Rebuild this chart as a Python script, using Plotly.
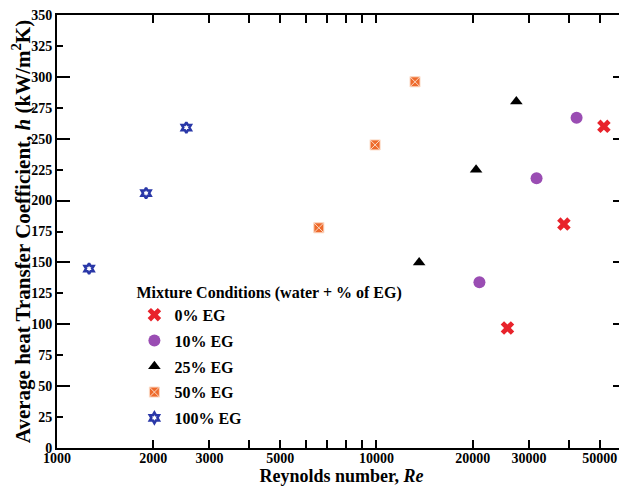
import plotly.graph_objects as go

series_names = ["0% EG", "10% EG", "25% EG", "50% EG", "100% EG"]
re_0 = [25700, 38600, 51500]
h_0 = [97, 181, 260]
re_10 = [21000, 31700, 42300]
h_10 = [134, 218, 267]
re_25 = [13600, 20500, 27400]
h_25 = [150, 225, 280]
re_50 = [6600, 9900, 13200]
h_50 = [178, 245, 296]
re_100 = [1260, 1900, 2540]
h_100 = [145, 206, 259]

x_tickvals = [1000, 2000, 3000, 4000, 5000, 6000, 7000, 8000, 9000,
              10000, 20000, 30000, 40000, 50000, 60000]
x_ticktext = ["1000", "2000", "3000", "", "5000", "", "", "", "",
              "10000", "20000", "30000", "", "50000", ""]

FONT = "Liberation Serif"

styles = [
    dict(symbol="x", color="#E8232B", size=12, line=dict(width=0)),
    dict(symbol="circle", color="#9A4DB3", size=12, line=dict(width=0)),
    dict(symbol="triangle-up", color="#000000", size=11, line=dict(width=0)),
    dict(symbol="square-x", color="#EE6A2C", size=10, line=dict(width=1, color="#FBD9C4")),
    dict(symbol="hexagram-open", color="#2A38A8", size=8, line=dict(width=2.5, color="#2A38A8")),
]
xs = [re_0, re_10, re_25, re_50, re_100]
ys = [h_0, h_10, h_25, h_50, h_100]

fig = go.Figure()
for i, (name, x, y, st) in enumerate(zip(series_names, xs, ys, styles)):
    fig.add_trace(go.Scatter(x=x, y=y, mode="markers", name=name,
                             legendgroup=f"g{i}", marker=st))

# extra axis for long major ticks every 50
fig.add_trace(go.Scatter(x=[1000], y=[0], yaxis="y2", mode="markers",
                         marker=dict(opacity=0), showlegend=False, hoverinfo="skip"))

fig.update_layout(
    width=619, height=485,
    margin=dict(l=49, r=1, t=7, b=45),
    paper_bgcolor="white", plot_bgcolor="white",
    font=dict(family=FONT, color="black", size=14),
    xaxis=dict(type="log", range=[3, 4.781], tickvals=x_tickvals, ticktext=x_ticktext,
               ticks="inside", ticklen=8, tickwidth=2, tickcolor="black",
               showline=True, linewidth=2, linecolor="black", mirror="ticks",
               showgrid=False, zeroline=False, automargin=False,
               ticklabelstandoff=-4, ticklabeloverflow="allow",
               tickfont=dict(family=FONT, size=14, weight="bold"),
               title=dict(text="<b>Reynolds number, <i>Re</i></b>", standoff=0,
                          font=dict(family=FONT, size=18))),
    yaxis=dict(range=[0, 350], dtick=25, tick0=0,
               ticks="inside", ticklen=6, tickwidth=2, tickcolor="black",
               showline=True, linewidth=2, linecolor="black", mirror="ticks",
               showgrid=False, zeroline=False, automargin=False,
               ticklabeloverflow="allow",
               tickfont=dict(family=FONT, size=14, weight="bold"),
               title=dict(text="<b>Average heat Transfer Coefficient, <i>h</i> (kW/m<sup>2</sup>K)</b>",
                          standoff=9, font=dict(family=FONT, size=21))),
    yaxis2=dict(range=[0, 350], dtick=50, tick0=0, overlaying="y", side="left",
                ticks="inside", ticklen=13, tickwidth=2, tickcolor="black",
                showline=False, mirror="ticks", showgrid=False, zeroline=False,
                showticklabels=False, automargin=False),
    legend=dict(x=0.136, y=0.395, xanchor="left", yanchor="top",
                bgcolor="rgba(0,0,0,0)", traceorder="grouped", tracegroupgap=2,
                font=dict(family=FONT, size=16, weight="bold"),
                title=dict(text="<b>Mixture Conditions (water + % of EG)</b>",
                           font=dict(family=FONT, size=16), side="top")),
)

fig.write_html("out.html")
